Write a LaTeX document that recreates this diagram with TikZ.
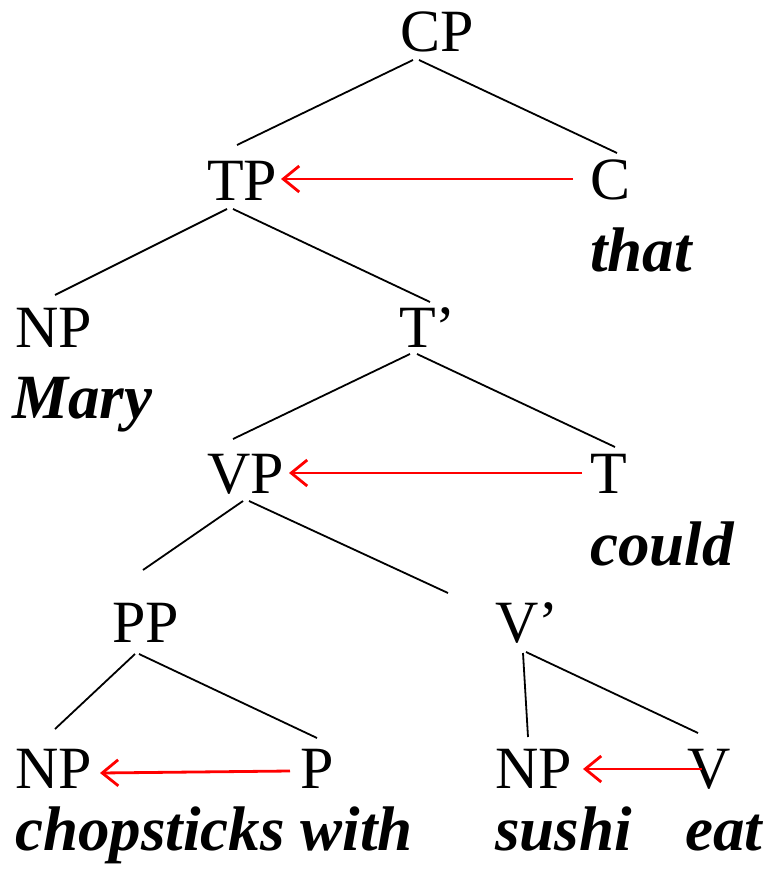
\documentclass[tikz,border=0pt]{standalone}
\usepackage{fontspec}
\setmainfont{Liberation Serif}[BoldItalicFont={Liberation Serif Bold Italic}]
\usetikzlibrary{arrows.meta}
\begin{document}
\begin{tikzpicture}[x=1pt,y=-1pt,
  lab/.style={anchor=base west,inner sep=0pt,font=\fontsize{60}{72}\selectfont},
  word/.style={anchor=base west,inner sep=0pt,font=\fontsize{63}{75}\selectfont\bfseries\itshape},
  edge/.style={draw=black,line width=1.8pt},
  move/.style={draw=red,line width=2.8pt,-{Straight Barb[length=16pt,width=26pt,line width=2.8pt]}}]
\useasboundingbox (0,0) rectangle (772,877);
\node[lab] (CP) at (400,52) {CP};
\node[lab] (TP) at (207,201) {TP};
\node[lab] (C) at (590,200) {C};
\node[word] (that) at (590,271) {that};
\node[lab] (NPa) at (15,347) {NP};
\node[word] (Mary) at (12,418) {Mary};
\node[lab] (Tbar) at (399,347) {T’};
\node[lab] (VP) at (207,493) {VP};
\node[lab] (T) at (590,493) {T};
\node[word] (could) at (590,565) {could};
\node[lab] (PP) at (112,642) {PP};
\node[lab] (Vbar) at (495,642) {V’};
\node[lab] (NPb) at (15,788) {NP};
\node[lab] (P) at (300,788) {P};
\node[lab] (NPc) at (495,788) {NP};
\node[lab] (V) at (687,788) {V};
\node[word] (chop) at (15,850) {chopsticks with};
\node[word] (sushi) at (495,850) {sushi};
\node[word] (eat) at (685,850) {eat};
% tree edges
\draw[edge] ([shift={(13,8)}]CP.base west) -- ([shift={(30,-56)}]TP.base west);
\draw[edge] ([shift={(19,8)}]CP.base west) -- ([shift={(27,-47)}]C.base west);
\draw[edge] ([shift={(20,8)}]TP.base west) -- ([shift={(40,-52)}]NPa.base west);
\draw[edge] ([shift={(26,8)}]TP.base west) -- ([shift={(31,-45)}]Tbar.base west);
\draw[edge] ([shift={(11,7)}]Tbar.base west) -- ([shift={(26,-54)}]VP.base west);
\draw[edge] ([shift={(18,7)}]Tbar.base west) -- ([shift={(25,-46)}]T.base west);
\draw[edge] ([shift={(36,8)}]VP.base west) -- ([shift={(31,-72)}]PP.base west);
\draw[edge] ([shift={(42,8)}]VP.base west) -- ([shift={(-47,-49)}]Vbar.base west);
\draw[edge] ([shift={(23,12)}]PP.base west) -- ([shift={(40,-59)}]NPb.base west);
\draw[edge] ([shift={(27,12)}]PP.base west) -- ([shift={(17,-50)}]P.base west);
\draw[edge] ([shift={(28,11)}]Vbar.base west) -- ([shift={(33,-51)}]NPc.base west);
\draw[edge] ([shift={(31,10)}]Vbar.base west) -- ([shift={(11,-55)}]V.base west);
% movement arrows
\draw[move] ([shift={(-17,-21)}]C.base west) -- ([shift={(74,-22)}]TP.base west);
\draw[move] ([shift={(-8,-20)}]T.base west) -- ([shift={(82,-20)}]VP.base west);
\draw[move] ([shift={(-10,-17)}]P.base west) -- ([shift={(85,-15)}]NPb.base west);
\draw[move] ([shift={(15,-19)}]V.base west) -- ([shift={(88,-19)}]NPc.base west);
\end{tikzpicture}
\end{document}
